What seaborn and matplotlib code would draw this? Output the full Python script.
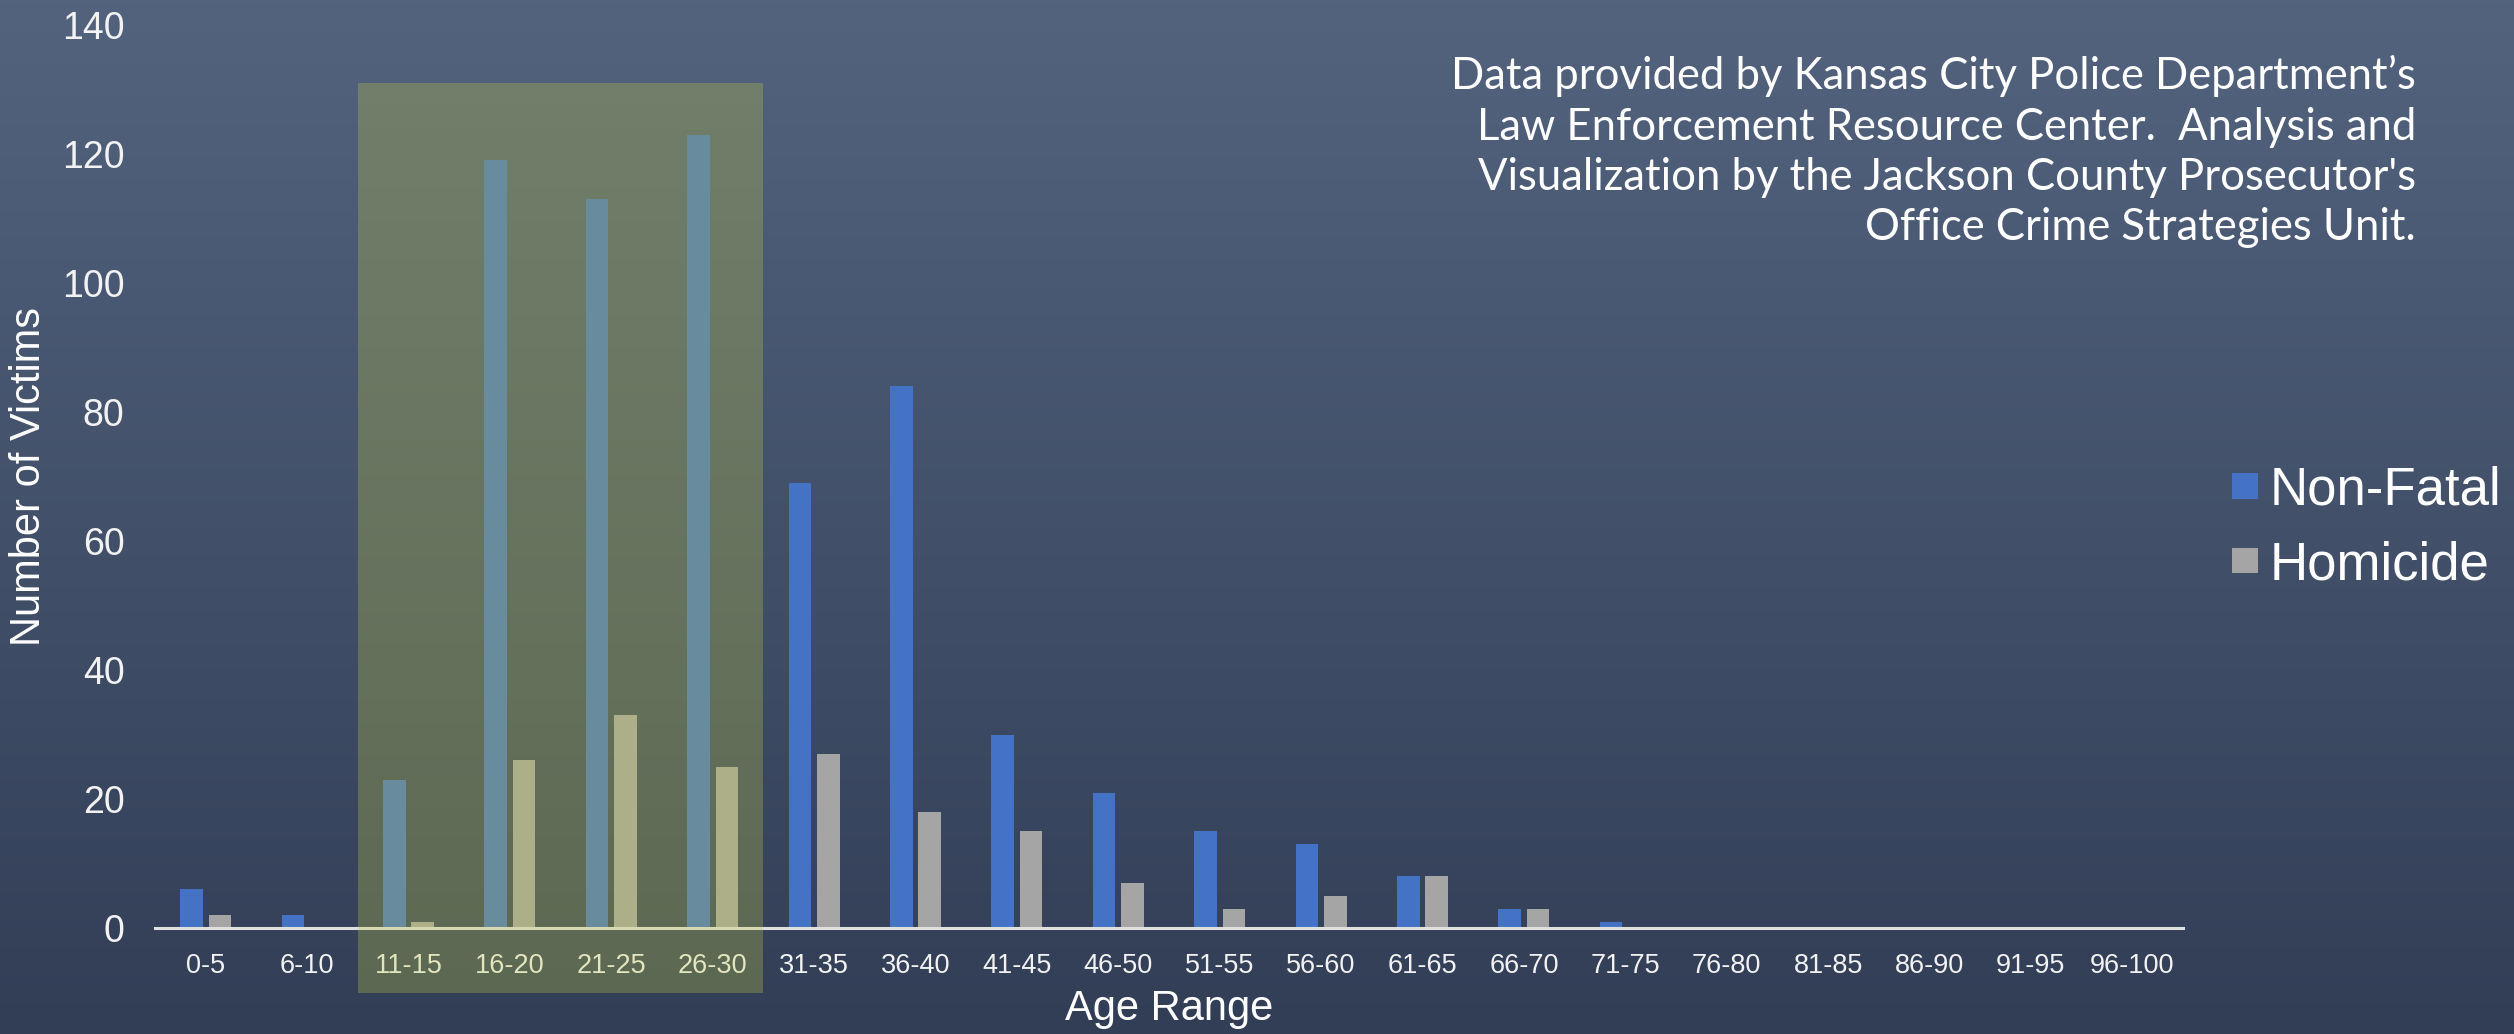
import numpy as np
import pandas as pd
import matplotlib
matplotlib.use('Agg')
import matplotlib.pyplot as plt
from matplotlib.patches import Rectangle
import seaborn as sns

# --- data ---
age_ranges = ["0-5", "6-10", "11-15", "16-20", "21-25", "26-30", "31-35", "36-40",
              "41-45", "46-50", "51-55", "56-60", "61-65", "66-70", "71-75", "76-80",
              "81-85", "86-90", "91-95", "96-100"]
non_fatal = [6, 2, 23, 119, 113, 123, 69, 84, 30, 21, 15, 13, 8, 3, 1, 0, 0, 0, 0, 0]
homicide = [2, 0, 1, 26, 33, 25, 27, 18, 15, 7, 3, 5, 8, 3, 0, 0, 0, 0, 0, 0]
series_names = ["Non-Fatal", "Homicide"]
highlight_span = ("11-15", "26-30")
y_ticks = [0, 20, 40, 60, 80, 100, 120, 140]
source_note = ("Data provided by Kansas City Police Department\u2019s\n"
               "Law Enforcement Resource Center.  Analysis and\n"
               "Visualization by the Jackson County Prosecutor's\n"
               "Office Crime Strategies Unit.")

df = pd.DataFrame({
    "age": age_ranges * 2,
    "victims": non_fatal + homicide,
    "type": [series_names[0]] * len(age_ranges) + [series_names[1]] * len(age_ranges),
})

sns.set_theme(style="white")
plt.rcParams['font.family'] = ['Liberation Sans', 'DejaVu Sans']

fig = plt.figure(figsize=(25.14, 10.34), dpi=100)

# gradient slide background
bg = fig.add_axes([0, 0, 1, 1], zorder=-10)
top_col = np.array([83, 99, 126]) / 255
bot_col = np.array([50, 62, 86]) / 255
t = np.linspace(0, 1, 256)[:, None, None]
grad = top_col * (1 - t) + bot_col * t
grad = np.repeat(grad, 2, axis=1)
bg.imshow(grad, aspect='auto', extent=[0, 1, 0, 1])
bg.axis('off')

ax = fig.add_axes([155 / 2514, 1 - 928 / 1034, (2183 - 155) / 2514, (928 - 25) / 1034])
ax.set_facecolor('none')

sns.barplot(data=df, x="age", y="victims", hue="type", order=age_ranges,
            palette=["#4472C4", "#A5A5A5"], width=0.56, gap=0.2,
            saturation=1, linewidth=0, edgecolor='none', ax=ax)

handles, labels = ax.get_legend_handles_labels()
ax.get_legend().remove()

ax.set_xlim(-0.5, len(age_ranges) - 0.5)
ax.set_ylim(0, 140)
ax.set_yticks(y_ticks)
for side in ["top", "right", "left"]:
    ax.spines[side].set_visible(False)
ax.spines["bottom"].set_color("#E0E0E0")
ax.spines["bottom"].set_linewidth(2.2)
ax.tick_params(axis='x', length=0, pad=18, labelsize=19.5, colors='#F2F2F2')
ax.tick_params(axis='y', length=0, pad=22, labelsize=27, colors='#F2F2F2')
ax.set_xlabel("Age Range", fontsize=30, color='white', labelpad=7)
ax.set_ylabel("Number of Victims", fontsize=30, color='white', labelpad=9)

# highlighted age band
i0 = age_ranges.index(highlight_span[0]) - 0.5
i1 = age_ranges.index(highlight_span[1]) + 0.5
fig.add_artist(Rectangle((i0, -10), i1 - i0, 141, transform=ax.transData,
                         facecolor="#BEC846", alpha=0.3, edgecolor='none',
                         zorder=5, clip_on=False))

fig.legend(handles, labels, loc='center left',
           bbox_to_anchor=(2232 / 2514, 1 - 528 / 1034),
           frameon=False, fontsize=38, handlelength=0.49, handleheight=0.38,
           handletextpad=0.22, labelspacing=0.47, borderpad=0, borderaxespad=0,
           labelcolor='white')

fig.text(2416 / 2514, 1 - 55 / 1034, source_note, ha='right', va='top',
         fontsize=31.4, color='white', linespacing=1.285, family=['Lato', 'DejaVu Sans'])

fig.savefig("out.png", dpi=100)
